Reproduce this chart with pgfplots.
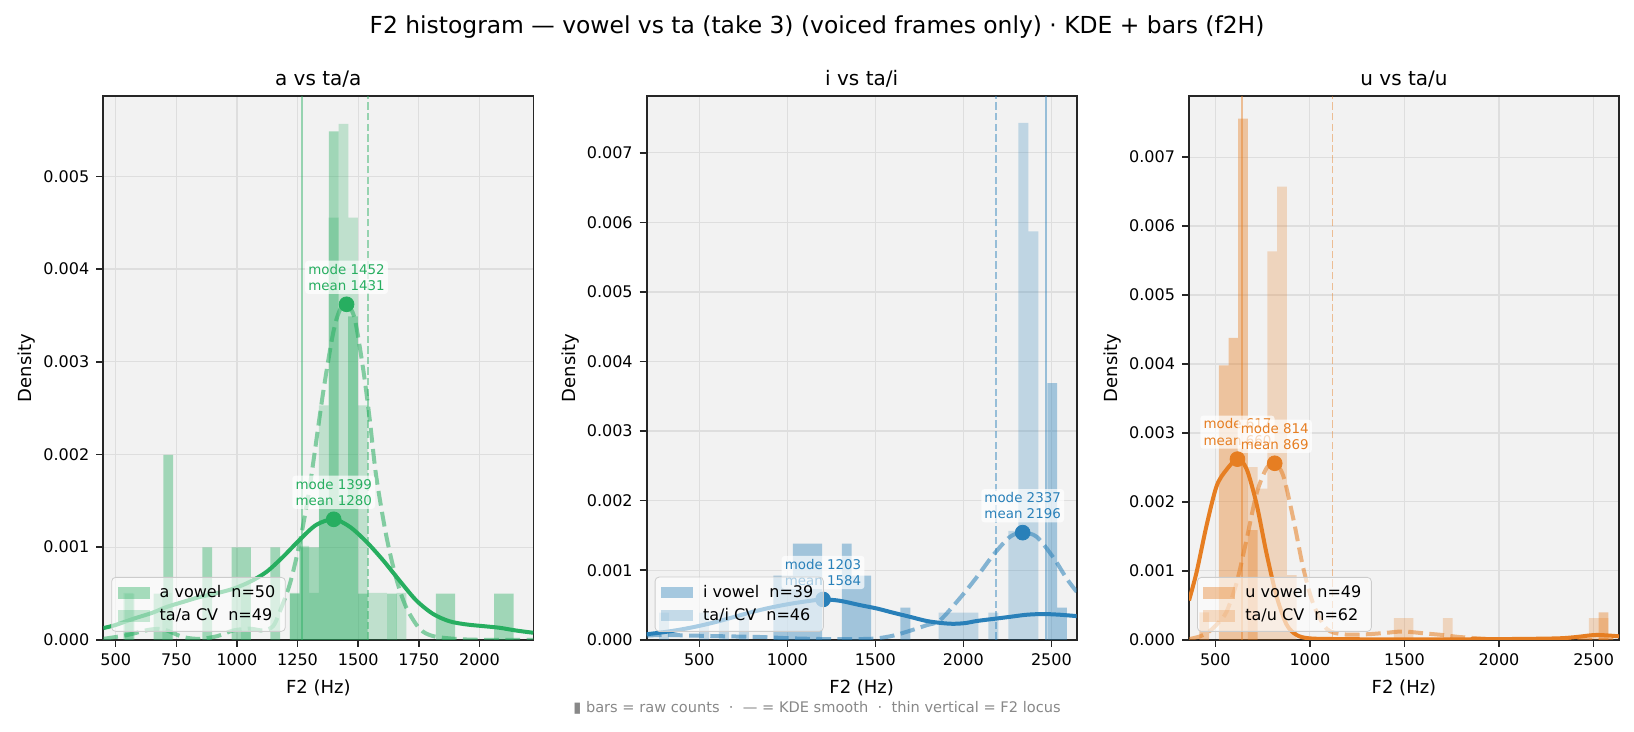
\documentclass[border=0pt]{standalone}
\usepackage{fontspec}
\setmainfont{DejaVu Sans}
\usepackage{pgfplots}
\pgfplotsset{compat=1.18}

\definecolor{gA}{HTML}{27AE60}
\definecolor{bA}{HTML}{2980B9}
\definecolor{oA}{HTML}{E67E22}
\definecolor{bgc}{HTML}{F2F2F2}
\definecolor{gridc}{HTML}{DEDEDE}
\definecolor{framec}{HTML}{262626}
\definecolor{notec}{HTML}{888888}

\pgfplotsset{
  panel/.style={
    scale only axis, width=215pt, height=272pt,
    axis background/.style={fill=bgc},
    grid=major, major grid style={draw=gridc, line width=0.6pt},
    axis line style={draw=framec, line width=0.8pt},
    tick align=outside, xtick pos=bottom, ytick pos=left,
    major tick length=3.5pt, tick style={draw=framec, line width=0.8pt},
    tick label style={font=\fontsize{8}{9.6}\selectfont},
    label style={font=\fontsize{9}{11}\selectfont},
    ylabel style={xshift=0pt, yshift=-3pt},
    title style={font=\fontsize{10}{12}\selectfont, yshift=-5.3pt},
    xlabel={F2 (Hz)}, ylabel={Density},
    ymin=0, scaled ticks=false,
    legend cell align=left,
    legend style={at={(0,0)}, anchor=south west, xshift=4pt, yshift=4pt,
      font=\fontsize{8}{9.6}\selectfont, fill=white, fill opacity=0.6,
      text opacity=1, draw=black!20, rounded corners=2pt},
  },
  vbar/.style={ybar, bar shift=0pt, draw=none, fill=#1, fill opacity=0.4,
    legend image code/.code={\fill[##1, sharp corners] (0pt,-2.8pt) rectangle (16pt,2.8pt);}},
  tbar/.style={ybar, bar shift=0pt, draw=none, fill=#1, fill opacity=0.25,
    legend image code/.code={\fill[##1, sharp corners] (0pt,-2.8pt) rectangle (16pt,2.8pt);}},
  kdev/.style={color=#1, line width=2pt, smooth, no markers, forget plot},
  kdet/.style={color=#1, opacity=0.55, line width=2pt, dash pattern=on 7.4pt off 3.2pt,
    smooth, no markers, forget plot},
  locv/.style={color=#1, opacity=0.45, line width=0.9pt, no markers, forget plot},
  loct/.style={color=#1, opacity=0.45, line width=0.9pt, dash pattern=on 3.7pt off 1.6pt,
    no markers, forget plot},
  moded/.style={only marks, mark=*, mark size=3.7pt, color=#1, forget plot},
}
\tikzset{ann/.style={font=\fontsize{6.7}{8.2}\selectfont, text=#1, fill=white,
  fill opacity=0.7, text opacity=1, rounded corners=1.5pt, inner sep=1.6pt,
  align=center, anchor=south, yshift=5pt}}

\begin{document}
\begin{tikzpicture}
\useasboundingbox (0,0) rectangle (817pt,366pt);

\node[font=\fontsize{11.7}{14}\selectfont] at (408.5pt,352.4pt)
  {F2 histogram — vowel vs ta (take 3) (voiced frames only) · KDE + bars (f2H)};
\node[font=\fontsize{7.3}{9}\selectfont, text=notec] at (408.5pt,12.2pt)
  {▮ bars = raw counts~~·~~— = KDE smooth~~·~~thin vertical = F2 locus};

% ---------------- a vs ta/a ----------------
\begin{axis}[panel, at={(51.65pt,46.1pt)}, anchor=south west,
  title={a vs ta/a},
  xmin=449, xmax=2222, ymax=0.00587,
  xtick={500,750,1000,1250,1500,1750,2000},
  xticklabels={500,750,1000,1250,1500,1750,2000},
  ytick={0,0.001,0.002,0.003,0.004,0.005},
  yticklabels={0.000,0.001,0.002,0.003,0.004,0.005}]
\addplot[vbar=gA, bar width=40.1] coordinates {
 (556.7,0.000499) (677.0,0.000499) (717.1,0.001995) (877.5,0.000998)
 (997.8,0.000998) (1037.9,0.000998) (1158.2,0.000998) (1238.4,0.000499)
 (1278.5,0.000998) (1318.6,0.000998) (1358.7,0.001497) (1398.8,0.005486)
 (1438.9,0.001497) (1479.0,0.003491) (1519.1,0.000499) (1639.4,0.000499)
 (1839.9,0.000499) (1880.0,0.000499) (2080.5,0.000499) (2120.6,0.000499)};
\addlegendentry{\hspace*{3pt}a vowel~~n=50}
\addplot[tbar=gA, bar width=40.3] coordinates {
 (552,0.000506) (713,0.000506) (1036,0.000506) (1238,0.000506)
 (1278,0.001013) (1318,0.000506) (1358,0.00253) (1398,0.004554)
 (1439,0.005566) (1479,0.004554) (1519,0.00253) (1560,0.000506)
 (1598,0.000506) (1679,0.000506)};
\addlegendentry{\hspace*{3pt}ta/a CV~~n=49}
\addplot[kdev=gA] coordinates {
 (449,0.000126) (500,0.00016) (573,0.000227) (650,0.00029) (710,0.000354)
 (780,0.00041) (847,0.000462) (920,0.000505) (984,0.00055) (1053,0.000625)
 (1122,0.000733) (1190,0.000895) (1259,0.00108) (1327,0.00124) (1399,0.0013)
 (1465,0.00122) (1533,0.00106) (1602,0.00086) (1670,0.00064) (1739,0.000426)
 (1808,0.00028) (1876,0.0002) (1945,0.000166) (2013,0.000148) (2082,0.00013)
 (2151,0.0001) (2222,0.000076)};
\addplot[kdet=gA] coordinates {
 (449,0.00001) (545,0.00005) (641,0.00011) (700,0.00011) (778,0.00003)
 (847,0.00001) (920,0.00004) (984,0.0001) (1053,0.00012) (1110,0.0001)
 (1150,0.00015) (1176,0.0003) (1218,0.0006) (1259,0.00105) (1300,0.00165)
 (1355,0.00266) (1396,0.0033) (1423,0.00355) (1452,0.00362) (1485,0.00347)
 (1520,0.00293) (1547,0.00239) (1574,0.00177) (1616,0.00112) (1657,0.00066)
 (1698,0.00035) (1753,0.00012) (1808,0.00004) (1900,0.00001) (2000,0) (2222,0)};
\addplot[locv=gA] coordinates {(1268,0) (1268,0.00587)};
\addplot[loct=gA] coordinates {(1541,0) (1541,0.00587)};
\addplot[moded=gA] coordinates {(1399,0.0013) (1452,0.00362)};
\node[ann=gA] at (axis cs:1399,0.0013) {mode 1399\\mean 1280};
\node[ann=gA] at (axis cs:1452,0.00362) {mode 1452\\mean 1431};
\end{axis}

% ---------------- i vs ta/i ----------------
\begin{axis}[panel, at={(323.35pt,46.1pt)}, anchor=south west,
  title={i vs ta/i},
  xmin=201, xmax=2644, ymax=0.00782,
  xtick={500,1000,1500,2000,2500},
  xticklabels={500,1000,1500,2000,2500},
  ytick={0,0.001,0.002,0.003,0.004,0.005,0.006,0.007},
  yticklabels={0.000,0.001,0.002,0.003,0.004,0.005,0.006,0.007}]
\addplot[vbar=bA, bar width=55.6] coordinates {
 (947.8,0.000922) (1003.4,0.000922) (1059.0,0.001383) (1114.6,0.001383)
 (1170.2,0.001383) (1337.0,0.001383) (1392.6,0.000922) (1448.2,0.000922)
 (1670.6,0.000461) (2504.6,0.003688) (2560.2,0.000461)};
\addlegendentry{\hspace*{3pt}i vowel~~n=39}
\addplot[tbar=bA, bar width=56.7] coordinates {
 (300.2,0.000391) (526.6,0.000391) (640.0,0.000391) (753.4,0.000391)
 (1887.5,0.000391) (1944.2,0.000391) (2000.9,0.000391) (2057.6,0.000391)
 (2171.0,0.000391) (2284.4,0.001564) (2341.1,0.00743) (2397.8,0.00587)};
\addlegendentry{\hspace*{3pt}ta/i CV~~n=46}
\addplot[kdev=bA] coordinates {
 (201,0.00008) (300,0.00011) (400,0.00015) (500,0.0002) (600,0.00026)
 (700,0.00033) (800,0.0004) (900,0.00046) (1000,0.00051) (1100,0.00055)
 (1203,0.00058) (1300,0.00056) (1410,0.0005) (1508,0.00045) (1600,0.00039)
 (1697,0.00033) (1792,0.00027) (1880,0.00024) (1943,0.00023) (2010,0.00024)
 (2076,0.00027) (2170,0.0003) (2265,0.00033) (2360,0.00036) (2455,0.00037)
 (2550,0.00036) (2644,0.00034)};
\addplot[kdet=bA] coordinates {
 (201,0.00006) (300,0.00007) (466,0.00006) (650,0.00005) (845,0.00004)
 (1034,0.00002) (1223,0.00001) (1400,0.00001) (1508,0.00002) (1602,0.00006)
 (1697,0.00013) (1792,0.00021) (1867,0.00028) (1981,0.0006) (2076,0.0009)
 (2170,0.00122) (2265,0.00148) (2337,0.00154) (2417,0.00148) (2512,0.00118)
 (2587,0.00088) (2644,0.00069)};
\addplot[loct=bA] coordinates {(2184,0) (2184,0.00782)};
\addplot[locv=bA] coordinates {(2470,0) (2470,0.00782)};
\addplot[moded=bA] coordinates {(1203,0.00058) (2337,0.00154)};
\node[ann=bA] at (axis cs:1203,0.00058) {mode 1203\\mean 1584};
\node[ann=bA] at (axis cs:2337,0.00154) {mode 2337\\mean 2196};
\end{axis}

% ---------------- u vs ta/u ----------------
\begin{axis}[panel, at={(594.5pt,46.1pt)}, anchor=south west,
  title={u vs ta/u},
  xmin=361, xmax=2634, ymax=0.00789,
  xtick={500,1000,1500,2000,2500},
  xticklabels={500,1000,1500,2000,2500},
  ytick={0,0.001,0.002,0.003,0.004,0.005,0.006,0.007},
  yticklabels={0.000,0.001,0.002,0.003,0.004,0.005,0.006,0.007}]
\addplot[vbar=oA, bar width=51.3] coordinates {
 (441.7,0.000398) (544.3,0.00398) (595.6,0.00438) (646.9,0.00756)
 (698.2,0.00159) (2552,0.000398)};
\addlegendentry{\hspace*{3pt}u vowel~~n=49}
\addplot[tbar=oA, bar width=51.5] coordinates {
 (697.8,0.002504) (749.3,0.002191) (800.8,0.005634) (852.3,0.006573)
 (903.8,0.000939) (1470.3,0.000313) (1521.8,0.000313) (1728.3,0.000313)
 (2500.3,0.000313) (2551.8,0.000313)};
\addlegendentry{\hspace*{3pt}ta/u CV~~n=62}
\addplot[kdev=oA] coordinates {
 (361,0.00057) (401,0.00098) (454,0.00166) (507,0.00223) (560,0.00247)
 (617,0.00262) (665,0.00248) (718,0.00197) (771,0.00125) (824,0.00063)
 (877,0.00022) (930,0.00007) (1000,0.00002) (1176,0.00001) (1500,0.000005)
 (2000,0.00001) (2300,0.00002) (2408,0.00004) (2514,0.00007) (2634,0.00005)};
\addplot[kdet=oA] coordinates {
 (361,0.00001) (420,0.00005) (472,0.00013) (520,0.00026) (560,0.00041)
 (613,0.00083) (665,0.00145) (718,0.00212) (771,0.00249) (814,0.00256)
 (859,0.00238) (912,0.00176) (965,0.00104) (1018,0.00052) (1088,0.00016)
 (1176,0.00008) (1300,0.00008) (1400,0.0001) (1493,0.00012) (1616,0.00009)
 (1700,0.00007) (1792,0.00004) (1968,0.00001) (2232,0) (2634,0)};
\addplot[locv=oA] coordinates {(641,0) (641,0.00789)};
\addplot[loct=oA] coordinates {(1120,0) (1120,0.00789)};
\addplot[moded=oA] coordinates {(617,0.00262) (814,0.00256)};
\node[ann=oA] at (axis cs:617,0.00262) {mode 617\\mean 660};
\node[ann=oA] at (axis cs:814,0.00256) {mode 814\\mean 869};
\end{axis}
\end{tikzpicture}
\end{document}
